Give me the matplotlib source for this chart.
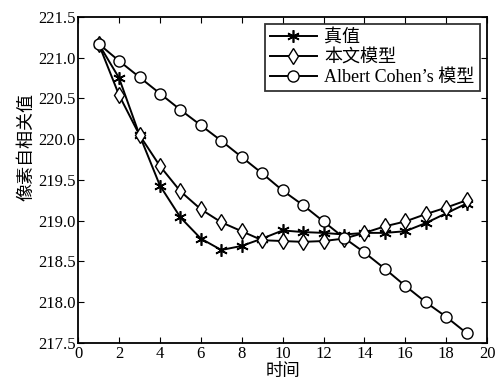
import matplotlib
matplotlib.use("Agg")
import matplotlib.pyplot as plt

plt.rcParams['font.family'] = ['Liberation Serif', 'Noto Sans CJK SC']

# time steps
t = list(range(1, 20))

# 真值 (ground truth)
truth = [221.17, 220.75, 220.05, 219.43, 219.04, 218.78, 218.64, 218.69, 218.78,
         218.88, 218.86, 218.85, 218.83, 218.85, 218.85, 218.87, 218.97, 219.09, 219.21]

# 本文模型 (proposed model)
ours = [221.17, 220.54, 220.05, 219.67, 219.36, 219.14, 218.98, 218.87, 218.76,
        218.75, 218.74, 218.75, 218.78, 218.85, 218.93, 218.99, 219.08, 219.16, 219.25]

# Albert Cohen's model
cohen = [221.17, 220.96, 220.76, 220.56, 220.36, 220.17, 219.98, 219.78, 219.58,
         219.37, 219.19, 218.99, 218.79, 218.61, 218.41, 218.20, 218.00, 217.82, 217.62]

labels = ['真值', '本文模型', "Albert Cohen’s 模型"]
xticks = list(range(0, 21, 2))
yticks = [217.5, 218.0, 218.5, 219.0, 219.5, 220.0, 220.5, 221.0, 221.5]

fig = plt.figure(figsize=(4.98, 3.84), dpi=100)
ax = fig.add_axes([0.157, 0.107, 0.821, 0.849])

ax.plot(t, truth, color='black', lw=1.4, marker=(6, 2, 0), ms=9, mew=1.2, label=labels[0])
ax.plot(t, ours, color='black', lw=1.4, marker='d', ms=8, mfc='white', mew=1.0, label=labels[1])
ax.plot(t, cohen, color='black', lw=1.4, marker='o', ms=8, mfc='white', mew=1.0, label=labels[2])

ax.set_xlim(0, 20)
ax.set_ylim(217.5, 221.5)
ax.set_xticks(xticks)
ax.set_yticks(yticks)
ax.set_yticklabels([f'{v:.1f}' for v in yticks])
ax.tick_params(direction='in', length=4, labelsize=12, top=True, right=True, pad=2)
for s in ax.spines.values():
    s.set_linewidth(1.3)

ax.set_xlabel('时间', fontsize=12.5, family=['Noto Sans CJK SC'])
ax.xaxis.set_label_coords(0.5, -0.058)
ax.set_ylabel('像素自相关值', fontsize=13, labelpad=0, family=['Noto Sans CJK SC'])
ax.yaxis.set_label_coords(-0.105, 0.60)

leg = ax.legend(loc='upper right', frameon=True, fancybox=False,
                edgecolor='black', handlelength=2.6, borderpad=0.3, labelspacing=0.15,
                handletextpad=0.4, borderaxespad=0.4,
                prop={'family': ['Liberation Serif', 'Noto Sans CJK SC'], 'size': 13})
leg.get_frame().set_linewidth(1.3)

fig.savefig('out.png', dpi=100)
